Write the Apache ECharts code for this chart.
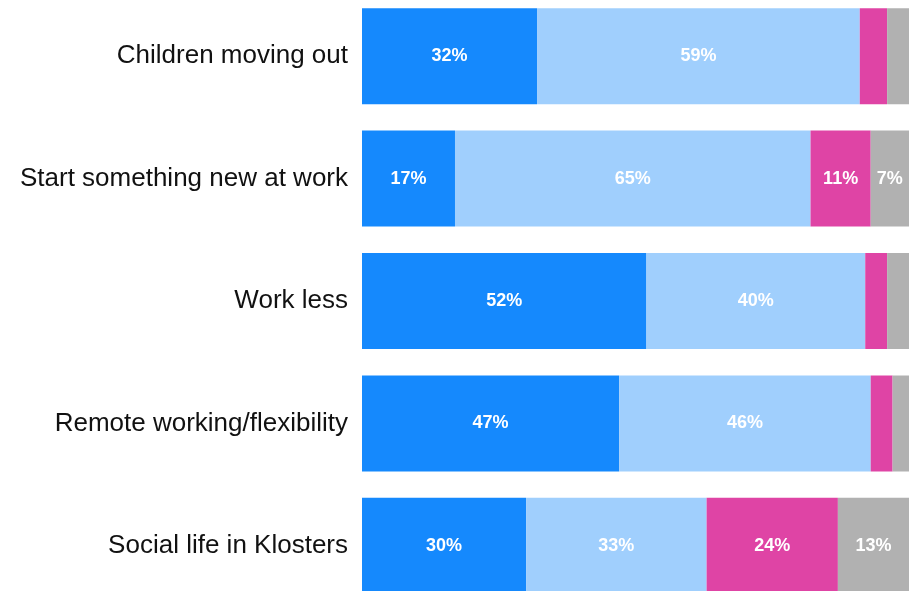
<!DOCTYPE html>
<html>
<head>
<meta charset="utf-8">
<script src="https://cdn.jsdelivr.net/npm/echarts@6/dist/echarts.min.js"></script>
<style>
  html, body { margin: 0; padding: 0; background: #ffffff; overflow: hidden; }
  body { width: 909px; height: 591px; position: relative; }
  /* the plot is taller than the window: the outer bands run past the top and bottom edges */
  #chart { position: absolute; left: 0; top: -5px; width: 909px; height: 612px; }
</style>
</head>
<body>
<div id="chart"></div>
<script>
// Survey topics, top to bottom
const categories = [
  'Children moving out',
  'Start something new at work',
  'Work less',
  'Remote working/flexibility',
  'Social life in Klosters'
];

// Share of answers per topic (percent), one array per answer group
const seriesA = [32, 17, 52, 47, 30];
const seriesB = [59, 65, 40, 46, 33];
const seriesC = [5, 11, 4, 4, 24];
const seriesD = [4, 7, 4, 3, 13];

const colors = ['#1589fd', '#a0cffd', '#df44a5', '#b1b1b1'];
const groups = [seriesA, seriesB, seriesC, seriesD];
const FONT = "'Liberation Sans', Arial, sans-serif";

const chart = echarts.init(document.getElementById('chart'), null, { renderer: 'canvas' });

chart.setOption({
  animation: false,
  grid: { left: 362, right: 0, top: 0, bottom: 0, containLabel: false },
  xAxis: {
    type: 'value', min: 0, max: 100,
    show: false
  },
  yAxis: {
    type: 'category',
    inverse: true,
    data: categories,
    axisLine: { show: false },
    axisTick: { show: false },
    splitLine: { show: false },
    axisLabel: {
      color: '#111111',
      fontFamily: FONT,
      fontSize: 26,
      margin: 14
    }
  },
  series: groups.map((vals, i) => ({
    type: 'bar',
    stack: 'total',
    barWidth: 96,
    data: vals,
    itemStyle: { color: colors[i] },
    label: {
      show: true,
      position: 'inside',
      color: '#ffffff',
      fontFamily: FONT,
      fontWeight: 'bold',
      fontSize: 18,
      formatter: p => (p.value >= 6 ? p.value + '%' : '')
    }
  }))
});
</script>
</body>
</html>
